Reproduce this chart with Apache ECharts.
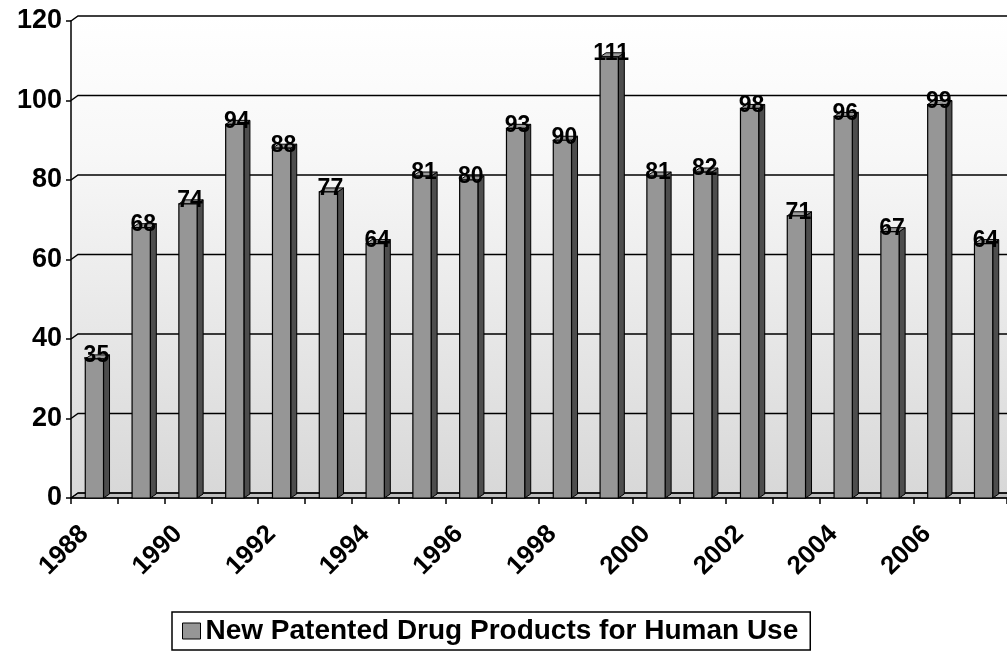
<!DOCTYPE html>
<html>
<head>
<meta charset="utf-8">
<script src="https://cdn.jsdelivr.net/npm/echarts@6/dist/echarts.min.js"></script>
<style>
  html, body { margin: 0; padding: 0; background: #fff; }
  #chart { width: 1007px; height: 655px; }
</style>
</head>
<body>
<div id="chart"></div>
<script>
// Yearly counts of new patented drug products for human use
var years = ['1988','1989','1990','1991','1992','1993','1994','1995','1996','1997',
             '1998','1999','2000','2001','2002','2003','2004','2005','2006','2007'];
var products = [35, 68, 74, 94, 88, 77, 64, 81, 80, 93, 90, 111, 81, 82, 98, 71, 96, 67, 99, 64];
var yTicks = [0, 20, 40, 60, 80, 100, 120];
var seriesName = 'New Patented Drug Products for Human Use';

// 3D look: depth offsets of the back wall and of each column
var WALL_DX = 7, WALL_DY = -5;
var BAR_DX = 6, BAR_DY = -4;
var BAR_RATIO = 0.39;
var FONT = '"Liberation Sans", Arial, sans-serif';

var chart = echarts.init(document.getElementById('chart'), null, { renderer: 'canvas' });

function wallGradient() {
  return new echarts.graphic.LinearGradient(0, 0, 0, 1, [
    { offset: 0, color: '#ffffff' },
    { offset: 0.3, color: '#f7f7f7' },
    { offset: 1, color: '#d8d8d8' }
  ]);
}

// Back wall, side wall, floor and gridlines drawn from the grid rectangle and y scale
function renderWall(params, api) {
  var cs = params.coordSys;
  var x0 = cs.x, x1 = cs.x + cs.width;
  var yTop = api.coord([0, yTicks[yTicks.length - 1]])[1];
  var yBot = api.coord([0, yTicks[0]])[1];
  var children = [];
  children.push({
    type: 'polygon',
    shape: { points: [[x0 + WALL_DX, yTop + WALL_DY], [x1 + WALL_DX, yTop + WALL_DY],
                      [x1 + WALL_DX, yBot + WALL_DY], [x0 + WALL_DX, yBot + WALL_DY]] },
    style: { fill: wallGradient(), stroke: null }
  });
  children.push({
    type: 'polygon',
    shape: { points: [[x0, yTop], [x0 + WALL_DX, yTop + WALL_DY],
                      [x0 + WALL_DX, yBot + WALL_DY], [x0, yBot]] },
    style: { fill: wallGradient(), stroke: null }
  });
  children.push({
    type: 'polygon',
    shape: { points: [[x0, yBot], [x1, yBot], [x1 + WALL_DX, yBot + WALL_DY], [x0 + WALL_DX, yBot + WALL_DY]] },
    style: { fill: '#bdbdbd', stroke: '#000', lineWidth: 1 }
  });
  yTicks.forEach(function (v) {
    var y = api.coord([0, v])[1];
    children.push({
      type: 'polyline',
      shape: { points: [[x0, y], [x0 + WALL_DX, y + WALL_DY], [x1 + WALL_DX, y + WALL_DY]] },
      style: { stroke: '#000', lineWidth: 1.5, fill: null }
    });
  });
  return { type: 'group', children: children };
}

// Each column: front face, dark side face, top face and its value label
function renderBar(params, api) {
  var idx = api.value(0);
  var val = api.value(1);
  var base = api.coord([idx, 0]);
  var top = api.coord([idx, val]);
  var w = api.size([1, 0])[0] * BAR_RATIO;
  var xl = base[0] - w / 2, xr = base[0] + w / 2;
  var yt = top[1], yb = base[1];
  return {
    type: 'group',
    children: [
      {
        type: 'polygon',
        shape: { points: [[xr, yt], [xr + BAR_DX, yt + BAR_DY], [xr + BAR_DX, yb + BAR_DY], [xr, yb]] },
        style: { fill: '#4d4d4d', stroke: '#000', lineWidth: 1 }
      },
      {
        type: 'polygon',
        shape: { points: [[xl, yt], [xr, yt], [xr + BAR_DX, yt + BAR_DY], [xl + BAR_DX, yt + BAR_DY]] },
        style: { fill: '#9a9a9a', stroke: '#000', lineWidth: 1 }
      },
      {
        type: 'rect',
        shape: { x: xl, y: yt, width: w, height: yb - yt },
        style: { fill: '#969696', stroke: '#000', lineWidth: 1.2 }
      },
      {
        type: 'text',
        x: base[0] + 2,
        y: yt - 3,
        style: {
          text: String(val),
          fill: '#000',
          font: 'bold 23px ' + FONT,
          align: 'center',
          verticalAlign: 'middle',
          textShadowColor: 'rgba(0,0,0,0.55)',
          textShadowOffsetX: 2,
          textShadowOffsetY: 1,
          textShadowBlur: 0
        }
      }
    ]
  };
}

var option = {
  animation: false,
  backgroundColor: '#ffffff',
  grid: { left: 71, right: -5, top: 21, bottom: 157, containLabel: false },
  legend: {
    data: [seriesName],
    top: 612,
    left: 172,
    icon: 'rect',
    itemWidth: 18,
    itemHeight: 16,
    padding: [5, 12, 5, 10],
    borderColor: '#000',
    borderWidth: 1.5,
    itemStyle: { color: '#969696', borderColor: '#000', borderWidth: 1 },
    textStyle: { color: '#000', fontWeight: 'bold', fontSize: 28, fontFamily: FONT }
  },
  xAxis: {
    type: 'category',
    data: years,
    boundaryGap: true,
    axisLine: { show: true, lineStyle: { color: '#000', width: 1.5 } },
    axisTick: { show: true, interval: 0, length: 6, lineStyle: { color: '#000', width: 1.5 } },
    axisLabel: {
      interval: 1,
      rotate: 45,
      margin: 22,
      padding: [0, 14, 0, 0],
      color: '#000',
      fontWeight: 'bold',
      fontSize: 26,
      fontFamily: FONT
    },
    splitLine: { show: false }
  },
  yAxis: {
    type: 'value',
    min: 0,
    max: 120,
    interval: 20,
    axisLine: { show: true, lineStyle: { color: '#000', width: 1.5 } },
    axisTick: { show: true, length: 5, lineStyle: { color: '#000', width: 1.5 } },
    axisLabel: {
      margin: 9,
      color: '#000',
      fontWeight: 'bold',
      fontSize: 27,
      fontFamily: FONT
    },
    splitLine: { show: false }
  },
  series: [
    {
      type: 'custom',
      name: 'wall',
      z: -1,
      silent: true,
      renderItem: renderWall,
      data: [[0, 0]],
      encode: { x: 0, y: 1 },
      clip: false
    },
    {
      type: 'custom',
      name: seriesName,
      itemStyle: { color: '#969696', borderColor: '#000' },
      renderItem: renderBar,
      data: products.map(function (v, i) { return [i, v]; }),
      encode: { x: 0, y: 1 },
      clip: false
    }
  ]
};

chart.setOption(option);
</script>
</body>
</html>
